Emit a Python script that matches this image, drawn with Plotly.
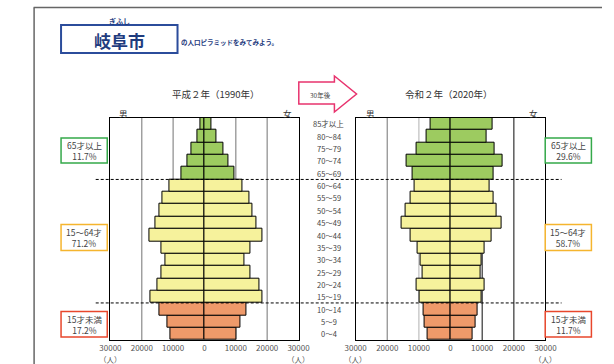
import plotly.graph_objects as go

# ---------------- data ----------------
ages = ["0～4", "5～9", "10～14", "15～19", "20～24", "25～29", "30～34", "35～39",
        "40～44", "45～49", "50～54", "55～59", "60～64", "65～69", "70～74",
        "75～79", "80～84", "85才以上"]
male_1990 = [10800, 11900, 14300, 17400, 15000, 13800, 12500, 13800, 17600,
             15600, 14400, 13500, 11300, 7400, 5300, 4200, 2400, 1200]
female_1990 = [10100, 11500, 13500, 18500, 17600, 14700, 12900, 14700, 18400,
               16700, 15300, 14400, 12100, 9600, 7500, 6000, 3700, 2100]
male_2020 = [7100, 8100, 8600, 9800, 10800, 8700, 9400, 10500, 12600,
             15500, 14100, 12700, 11500, 12000, 14000, 10700, 7700, 6300]
female_2020 = [6900, 7900, 8400, 9900, 10800, 9400, 9800, 10900, 13000,
               16200, 14700, 13600, 12300, 13500, 16400, 13800, 11300, 13400]
group_of_age = ["child"] * 3 + ["work"] * 10 + ["old"] * 5
shares_1990 = {"old": "11.7%", "work": "71.2%", "child": "17.2%"}
shares_2020 = {"old": "29.6%", "work": "58.7%", "child": "11.7%"}
group_names = {"old": "65才以上", "work": "15～64才", "child": "15才未満"}
tick_vals = [-30000, -20000, -10000, 0, 10000, 20000, 30000]
tick_text = ["30000", "20000", "10000", "0", "10000", "20000", "30000"]
titles = ["平成２年（1990年）", "令和２年（2020年）"]

# ---------------- style ----------------
W, H = 614, 364
fill = {"old": "#9DCB60", "work": "#F6F29C", "child": "#EF9A6A"}
border = {"old": "#35A94A", "work": "#F5B52E", "child": "#E8472C"}
FONT = "Noto Sans CJK JP"
TXT = "#333333"


def px(x):
    return x / W


def py(y):
    return 1 - y / H


colors = [fill[g] for g in group_of_age]
fig = go.Figure()

for i, (m, f) in enumerate([(male_1990, female_1990), (male_2020, female_2020)]):
    xa = "x" if i == 0 else "x2"
    ya = "y" if i == 0 else "y2"
    fig.add_trace(go.Bar(y=ages, x=[-v for v in m], orientation="h",
                         marker=dict(color=colors, line=dict(color="black", width=1)),
                         xaxis=xa, yaxis=ya, showlegend=False, hoverinfo="skip"))
    fig.add_trace(go.Bar(y=ages, x=f, orientation="h",
                         marker=dict(color=colors, line=dict(color="black", width=1)),
                         xaxis=xa, yaxis=ya, showlegend=False, hoverinfo="skip"))

ydom = [py(340), py(117.7)]
xdoms = [[px(103.3), px(298.7)], [px(358), px(555.3)]]
axis_common = dict(range=[-30000, 30000], tickvals=tick_vals, ticktext=tick_text,
                   showgrid=False, zeroline=False, showline=True, mirror=True,
                   linecolor="black", linewidth=1.3, ticks="",
                   tickfont=dict(family=FONT, size=8, color="#555555"), fixedrange=True)
yaxis_common = dict(range=[-0.5, 17.5], showticklabels=False, showgrid=False,
                    zeroline=False, showline=True, mirror=True, linecolor="black",
                    linewidth=1.3, ticks="", type="category", fixedrange=True)

fig.update_layout(
    width=W, height=H, margin=dict(l=0, r=0, t=0, b=0),
    paper_bgcolor="white", plot_bgcolor="white",
    barmode="overlay", bargap=0,
    xaxis=dict(domain=xdoms[0], anchor="y", **axis_common),
    yaxis=dict(domain=ydom, anchor="x", **yaxis_common),
    xaxis2=dict(domain=xdoms[1], anchor="y2", **axis_common),
    yaxis2=dict(domain=ydom, anchor="x2", **yaxis_common),
    font=dict(family=FONT, color=TXT),
)

shapes = []
# vertical grid lines (below bars)
grid_cols = [{-20000: "#8a8a8a", -10000: "#8a8a8a", 10000: "#8a8a8a", 20000: "#8a8a8a"},
             {-20000: "#8a8a8a", -10000: "#bdbdbd", 10000: "#333333", 20000: "#333333"}]
for i in range(2):
    xr = "x" if i == 0 else "x2"
    yr = "y domain" if i == 0 else "y2 domain"
    for v, c in grid_cols[i].items():
        shapes.append(dict(type="line", xref=xr, yref=yr, x0=v, x1=v, y0=0, y1=1,
                           line=dict(color=c, width=1.2), layer="below"))

# dashed group separators
for yv in [2.5, 12.5]:
    shapes.append(dict(type="line", xref="paper", yref="y", x0=px(88), x1=px(572),
                       y0=yv, y1=yv, line=dict(color="black", width=1, dash="3px,2px")))

# page frame
shapes.append(dict(type="line", xref="paper", yref="paper", x0=px(23.5), x1=px(614),
                   y0=py(7.5), y1=py(7.5), line=dict(color="#666666", width=1.5)))
shapes.append(dict(type="line", xref="paper", yref="paper", x0=px(24), x1=px(24),
                   y0=py(7.5), y1=py(364), line=dict(color="#666666", width=1.5)))

# title box
shapes.append(dict(type="rect", xref="paper", yref="paper", x0=px(52), x1=px(173),
                   y0=py(53), y1=py(25), line=dict(color="#2B4C9B", width=2)))

# arrow
pts = [(299, 82), (336, 82), (336, 76), (359, 94), (336, 112), (336, 104), (299, 104)]
path = "M " + " L ".join(f"{px(a):.5f},{py(b):.5f}" for a, b in pts) + " Z"
shapes.append(dict(type="path", xref="paper", yref="paper", path=path,
                   line=dict(color="#E8336E", width=1.5), fillcolor="white"))

# group boxes
box_y = {"old": (138, 163), "work": (224.5, 250.5), "child": (311.5, 337)}
box_x = [(52, 100), (555, 603)]
for i in range(2):
    for g, (y0, y1) in box_y.items():
        x0, x1 = box_x[i]
        shapes.append(dict(type="rect", xref="paper", yref="paper", x0=px(x0), x1=px(x1),
                           y0=py(y1), y1=py(y0), line=dict(color=border[g], width=1.5),
                           fillcolor="white"))

fig.update_layout(shapes=shapes)

ann = []


def text(x, y, s, size=8, color=TXT, bold=False, xanchor="center", **kw):
    if bold:
        s = f"<b>{s}</b>"
    ann.append(dict(x=px(x), y=py(y), xref="paper", yref="paper", text=s, showarrow=False,
                    xanchor=xanchor, yanchor="middle",
                    font=dict(family=FONT, size=size, color=color), **kw))


text(112.5, 40, "岐阜市", size=17, color="#1F3C7E", bold=True)
text(113, 21, "ぎふし", size=7, color="#1F3C7E", bold=True)
text(175, 42, "の人口ピラミッドをみてみよう。", size=6.5, color="#1F3C7E", bold=True,
     xanchor="left")
text(213, 94, titles[0], size=9.5)
text(455, 94, titles[1], size=9.5)
text(322, 95, "30年後", size=6.5, color="#444444")
text(117, 113, "男", size=8.5)
text(287, 113, "女", size=8.5)
text(373, 113, "男", size=8.5)
text(543, 113, "女", size=8.5)

for xx in [103.3, 298.7, 358, 555.3]:
    text(xx, 359.5, "（人）", size=7.5, color="#555555")

for i, shares in enumerate([shares_1990, shares_2020]):
    x0, x1 = box_x[i]
    for g, (y0, y1) in box_y.items():
        text((x0 + x1) / 2, (y0 + y1) / 2, f"{group_names[g]}<br>{shares[g]}", size=8.5,
             color="#444444")

# age labels in the middle
for a in ages:
    ann.append(dict(x=px(330), y=a, xref="paper", yref="y2", text=a, showarrow=False,
                    xanchor="center", yanchor="middle",
                    font=dict(family=FONT, size=7.5, color="#444444")))

fig.update_layout(annotations=ann)
fig.write_html("out.html", config={"displayModeBar": False},
               post_script="document.body.style.margin='0';document.body.style.overflow='hidden';")
